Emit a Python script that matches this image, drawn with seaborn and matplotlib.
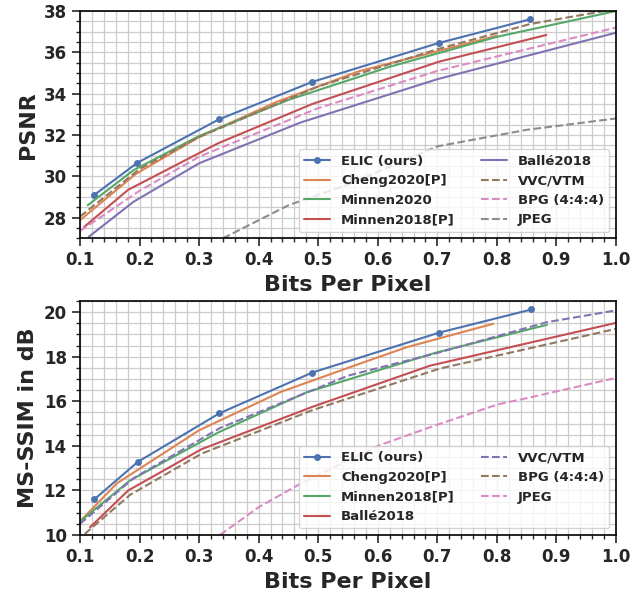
import numpy as np
import pandas as pd
import seaborn as sns
import matplotlib
matplotlib.use("Agg")
import matplotlib.pyplot as plt
from matplotlib.ticker import MultipleLocator

# PSNR (haut)
psnr_names = ["ELIC (ours)", "Cheng2020[P]", "Minnen2020", "Minnen2018[P]",
              "Ballé2018", "VVC/VTM", "BPG (4:4:4)", "JPEG"]
psnr_bpp = [
    [0.124, 0.196, 0.333, 0.489, 0.702, 0.856],
    [0.101, 0.193, 0.30, 0.43, 0.57, 0.70, 0.80],
    [0.113, 0.19, 0.30, 0.45, 0.62, 0.80, 1.0],
    [0.107, 0.181, 0.332, 0.49, 0.703, 0.883],
    [0.115, 0.19, 0.30, 0.47, 0.70, 1.0],
    [0.10, 0.20, 0.30, 0.50, 0.70, 0.856, 1.0],
    [0.10, 0.20, 0.30, 0.50, 0.70, 1.0],
    [0.34, 0.45, 0.55, 0.70, 0.85, 1.0],
]
psnr_val = [
    [29.1, 30.65, 32.75, 34.56, 36.45, 37.6],
    [27.9, 30.1, 31.9, 33.6, 35.1, 36.05, 36.8],
    [28.6, 30.3, 31.95, 33.7, 35.3, 36.75, 38.0],
    [27.55, 29.35, 31.6, 33.5, 35.55, 36.84],
    [27.08, 28.77, 30.63, 32.6, 34.7, 36.95],
    [28.05, 30.35, 31.9, 34.35, 36.15, 37.37, 38.1],
    [27.35, 29.3, 30.95, 33.3, 35.1, 37.2],
    [27.0, 28.6, 29.6, 31.45, 32.25, 32.8],
]
psnr_dashed = [False, False, False, False, False, True, True, True]

# MS-SSIM (bas)
ssim_names = ["ELIC (ours)", "Cheng2020[P]", "Minnen2018[P]", "Ballé2018",
              "VVC/VTM", "BPG (4:4:4)", "JPEG"]
ssim_bpp = [
    [0.124, 0.197, 0.334, 0.49, 0.703, 0.858],
    [0.101, 0.162, 0.30, 0.437, 0.57, 0.649, 0.794],
    [0.102, 0.184, 0.332, 0.48, 0.70, 0.884],
    [0.117, 0.181, 0.304, 0.49, 0.688, 1.0],
    [0.10, 0.19, 0.335, 0.55, 0.704, 0.884, 1.0],
    [0.108, 0.184, 0.304, 0.49, 0.704, 1.0],
    [0.335, 0.40, 0.47, 0.60, 0.70, 0.80, 0.86, 1.0],
]
ssim_val = [
    [11.6, 13.28, 15.46, 17.29, 19.08, 20.12],
    [10.64, 12.32, 14.70, 16.42, 17.69, 18.43, 19.48],
    [10.65, 12.45, 14.6, 16.4, 18.2, 19.43],
    [10.35, 12.0, 13.85, 15.75, 17.6, 19.52],
    [10.5, 12.55, 14.8, 17.15, 18.2, 19.55, 20.08],
    [10.05, 11.8, 13.65, 15.6, 17.47, 19.25],
    [10.0, 11.25, 12.3, 14.0, 14.95, 15.85, 16.2, 17.05],
]
ssim_dashed = [False, False, False, False, True, True, True]

sns.set_theme(style="ticks")
plt.rcParams["font.family"] = ["DejaVu Sans"]
plt.rcParams["font.weight"] = "bold"
plt.rcParams["axes.labelweight"] = "bold"

palette = sns.color_palette("deep")

fig = plt.figure(figsize=(6.43, 5.95), dpi=100)
ax1 = fig.add_axes([0.1244, 0.5995, 0.8336, 0.382])
ax2 = fig.add_axes([0.1244, 0.1008, 0.8336, 0.3933])


def draw(ax, names, bpp, vals, dashed):
    for i, name in enumerate(names):
        df = pd.DataFrame({"bpp": bpp[i], "val": vals[i]})
        sns.lineplot(data=df, x="bpp", y="val", ax=ax, label=name,
                     color=palette[i], sort=False, linewidth=1.5,
                     linestyle="--" if dashed[i] else "-",
                     marker="o" if i == 0 else None, markersize=5,
                     markeredgewidth=0)


draw(ax1, psnr_names, psnr_bpp, psnr_val, psnr_dashed)
draw(ax2, ssim_names, ssim_bpp, ssim_val, ssim_dashed)

ax1.set_ylim(27, 38)
ax2.set_ylim(10, 20.5)
for ax in (ax1, ax2):
    ax.set_xlim(0.1, 1.0)
    ax.xaxis.set_major_locator(MultipleLocator(0.1))
    ax.xaxis.set_minor_locator(MultipleLocator(0.02))
    ax.yaxis.set_major_locator(MultipleLocator(2))
    ax.yaxis.set_minor_locator(MultipleLocator(0.5))
    ax.grid(which="both", color="#cccccc", linewidth=0.9)
    ax.set_axisbelow(True)
    ax.tick_params(which="major", labelsize=12, length=6, width=1.2)
    ax.tick_params(which="minor", length=3, width=1)
    for s in ax.spines.values():
        s.set_color("black")
        s.set_linewidth(1.2)
    ax.set_xlabel("Bits Per Pixel", fontsize=16)
    ax.legend(loc="lower right", ncol=2,
              prop={"weight": "bold", "size": 9.5})

ax1.set_ylabel("PSNR", fontsize=16)
ax2.set_ylabel("MS-SSIM in dB", fontsize=16)

fig.savefig("out.png", dpi=100)
